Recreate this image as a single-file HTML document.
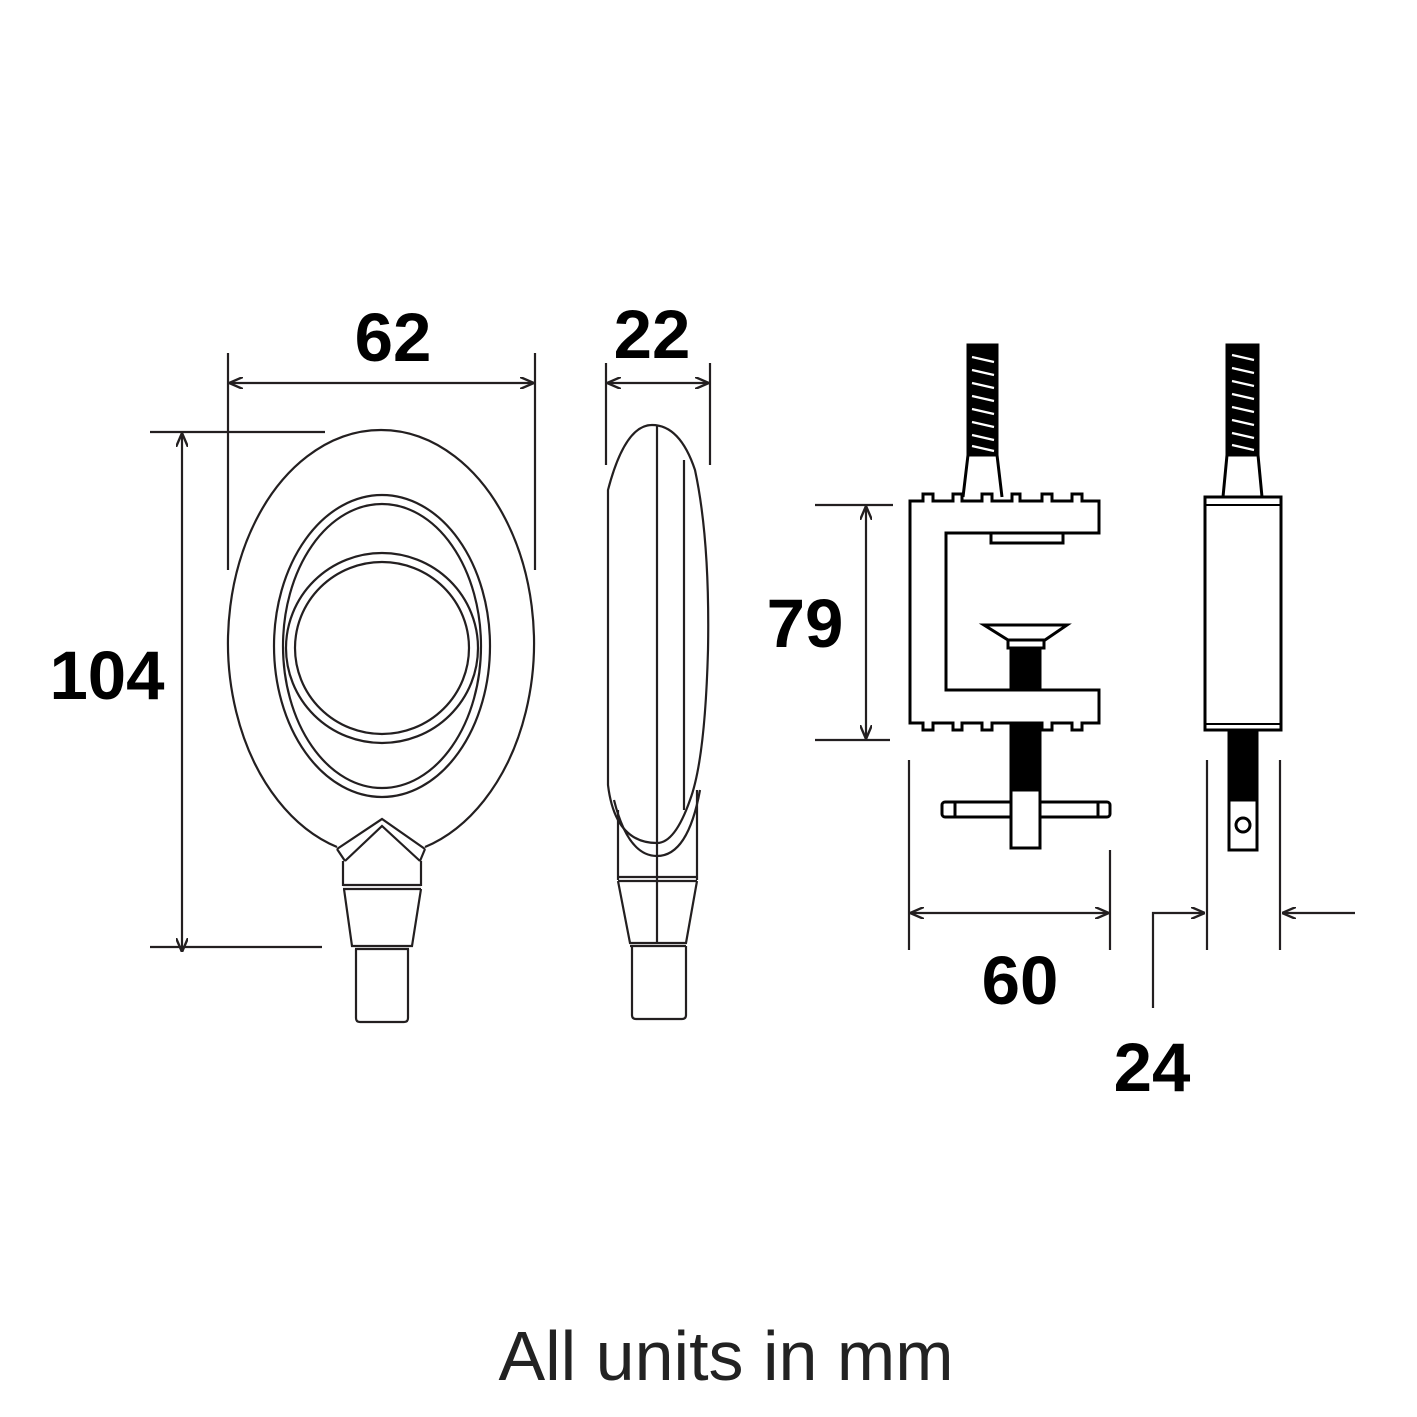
<!DOCTYPE html>
<html><head><style>html,body{margin:0;padding:0;background:#fff}svg{display:block}</style></head>
<body>
<svg width="1417" height="1417" viewBox="0 0 1417 1417" xmlns="http://www.w3.org/2000/svg">
<defs>
<marker id="a" viewBox="0 0 14 12" refX="14" refY="6" markerWidth="14" markerHeight="12" markerUnits="userSpaceOnUse" orient="auto-start-reverse"><path d="M0,0 L14,6 L0,12" fill="none" stroke="#231f20" stroke-width="2.4"/></marker>
</defs>
<g fill="none" stroke="#231f20" stroke-width="2.2">
<line x1="228" y1="353" x2="228" y2="570"/><line x1="535" y1="353" x2="535" y2="570"/>
<line x1="229" y1="383" x2="534" y2="383" marker-start="url(#a)" marker-end="url(#a)"/>
<line x1="606" y1="363" x2="606" y2="465"/><line x1="710" y1="363" x2="710" y2="465"/>
<line x1="607" y1="383" x2="709" y2="383" marker-start="url(#a)" marker-end="url(#a)"/>
<line x1="150" y1="432" x2="325" y2="432"/><line x1="150" y1="947" x2="322" y2="947"/>
<line x1="182" y1="433" x2="182" y2="952" marker-start="url(#a)" marker-end="url(#a)"/>
<line x1="815" y1="505" x2="893" y2="505"/><line x1="815" y1="740" x2="890" y2="740"/>
<line x1="866" y1="506" x2="866" y2="739" marker-start="url(#a)" marker-end="url(#a)"/>
<line x1="909" y1="760" x2="909" y2="950"/><line x1="1110" y1="850" x2="1110" y2="950"/>
<line x1="910" y1="913" x2="1109" y2="913" marker-start="url(#a)" marker-end="url(#a)"/>
<line x1="1207" y1="760" x2="1207" y2="950"/><line x1="1280" y1="760" x2="1280" y2="950"/>
<polyline points="1153,1008 1153,913 1205,913" marker-end="url(#a)"/>
<line x1="1355" y1="913" x2="1282" y2="913" marker-end="url(#a)"/>

<path d="M337,847 A153,213 0 1 1 425,847"/>
<ellipse cx="382" cy="646" rx="108" ry="151"/>
<ellipse cx="382" cy="646" rx="99" ry="142"/>
<ellipse cx="382" cy="648" rx="96" ry="95"/>
<ellipse cx="382" cy="648" rx="87" ry="86"/>
<path d="M337,849 L382,819 L425,849"/>
<path d="M345,861 L382,826 L420,861"/>
<path d="M337,849 L345,861 M425,849 L420,861"/>
<path d="M343,861 L343,886 M421,861 L421,886"/>
<line x1="343" y1="885" x2="421" y2="885"/><line x1="343" y1="889" x2="421" y2="889"/>
<path d="M344,889 L352,946 L412,946 L421,889"/>
<line x1="355" y1="949" x2="409" y2="949"/>
<path d="M356,949 L356,1018 Q356,1022 360,1022 L404,1022 Q408,1022 408,1018 L408,949"/>

<path d="M608,490 Q625,425 652,425 Q680,425 695,470 Q710,540 708,650 Q705,760 690,800 Q675,843 657,843 Q615,843 608,785 Z"/>
<path d="M614,800 Q628,856 657,856 Q688,856 700,790"/>
<line x1="684" y1="460" x2="684" y2="810"/>
<line x1="657" y1="425" x2="657" y2="943"/>
<path d="M618,810 L618,880 M697,790 L697,880"/>
<line x1="618" y1="877" x2="697" y2="877"/><line x1="618" y1="881" x2="697" y2="881"/>
<path d="M618,881 L630,943 L686,943 L697,881"/>
<line x1="630" y1="946" x2="686" y2="946"/>
<path d="M632,946 L632,1015 Q632,1019 636,1019 L682,1019 Q686,1019 686,1015 L686,946"/>
</g>

<g stroke="#000" stroke-width="3" fill="none">
<rect x="968" y="345" width="29" height="110" fill="#000"/>
<path d="M968,455 L963,497 M997,455 L1002,497"/>
<path d="M910,501 L923,501 L923,494 L933,494 L933,501 L953,501 L953,494 L962,494 L962,501 L982,501 L982,494 L992,494 L992,501 L1012,501 L1012,494 L1020,494 L1020,501 L1042,501 L1042,494 L1052,494 L1052,501 L1072,501 L1072,494 L1082,494 L1082,501 L1099,501 L1099,533 L946,533 L946,690 L1099,690 L1099,723 L1082,723 L1082,730 L1072,730 L1072,723 L1052,723 L1052,730 L1042,730 L1042,723 L1020,723 L1020,730 L1012,730 L1012,723 L992,723 L992,730 L982,730 L982,723 L962,723 L962,730 L953,730 L953,723 L933,723 L933,730 L923,730 L923,723 L910,723 Z" fill="#fff"/>
<rect x="991" y="533" width="72" height="10"/>
<path d="M984,625 L1067,625 L1045,640 L1008,640 Z"/>
<rect x="1008" y="640" width="36" height="8"/>
<rect x="1011" y="648" width="29" height="42" fill="#000"/>
<rect x="1011" y="723" width="29" height="67" fill="#000"/>
<rect x="942" y="802" width="168" height="15" rx="3" fill="#fff"/>
<path d="M955,802 L955,817 M1098,802 L1098,817"/>
<rect x="1011" y="790" width="29" height="58" fill="#fff"/>
</g>
<g stroke="#fff" stroke-width="2.2">
<line x1="972" y1="357" x2="994" y2="362"/><line x1="972" y1="370" x2="994" y2="375"/><line x1="972" y1="383" x2="994" y2="388"/><line x1="972" y1="396" x2="994" y2="401"/><line x1="972" y1="409" x2="994" y2="414"/><line x1="972" y1="422" x2="994" y2="427"/><line x1="972" y1="435" x2="994" y2="440"/><line x1="972" y1="446" x2="994" y2="451"/>
</g>

<g stroke="#000" stroke-width="3" fill="none">
<rect x="1227" y="345" width="31" height="110" fill="#000"/>
<path d="M1227,455 L1223,497 M1258,455 L1262,497"/>
<rect x="1205" y="497" width="76" height="233" fill="#fff"/>
<line x1="1205" y1="505" x2="1281" y2="505" stroke-width="2"/>
<line x1="1205" y1="724" x2="1281" y2="724" stroke-width="2"/>
<rect x="1229" y="730" width="28" height="70" fill="#000"/>
<rect x="1229" y="800" width="28" height="50" fill="#fff"/>
<circle cx="1243" cy="825" r="7"/>
</g>
<g stroke="#fff" stroke-width="2.2">
<line x1="1232" y1="355" x2="1254" y2="360"/><line x1="1232" y1="368" x2="1254" y2="373"/><line x1="1232" y1="381" x2="1254" y2="386"/><line x1="1232" y1="394" x2="1254" y2="399"/><line x1="1232" y1="407" x2="1254" y2="412"/><line x1="1232" y1="420" x2="1254" y2="425"/><line x1="1232" y1="433" x2="1254" y2="438"/><line x1="1232" y1="445" x2="1254" y2="450"/>
</g>

<g font-family="Liberation Sans, sans-serif" font-weight="bold" font-size="69" fill="#000" text-anchor="middle">
<text x="393" y="361">62</text>
<text x="652" y="358">22</text>
<text x="107" y="699">104</text>
<text x="805" y="647">79</text>
<text x="1020" y="1004">60</text>
<text x="1152" y="1091">24</text>
</g>
<text x="726" y="1380" font-family="Liberation Sans, sans-serif" font-size="70" fill="#222" text-anchor="middle">All units in mm</text>
</svg>
</body></html>
